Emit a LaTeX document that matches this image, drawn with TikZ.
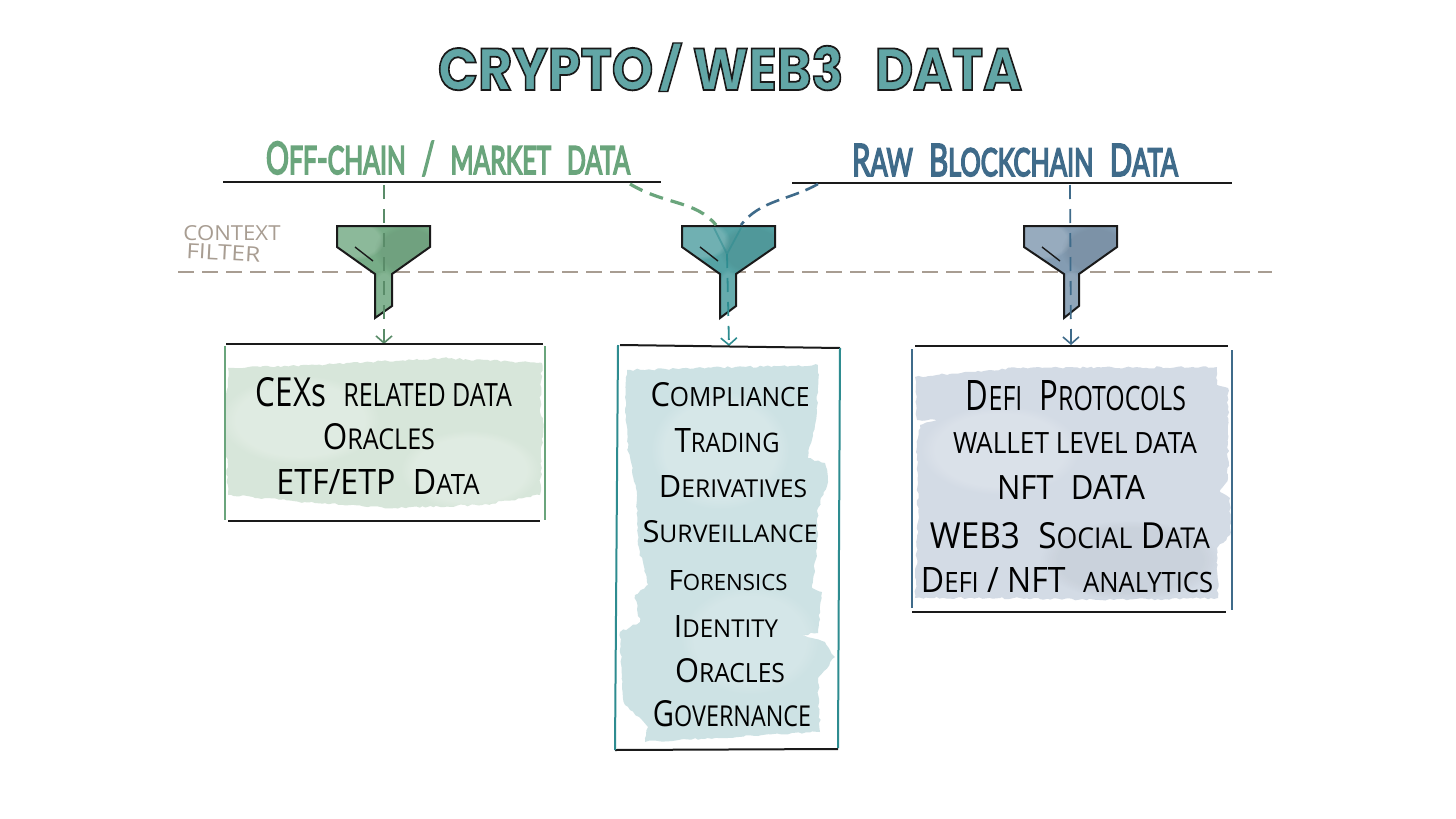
\documentclass[tikz,border=0pt]{standalone}
\usepackage{fontspec}
\usepackage{graphicx}
\usetikzlibrary{arrows.meta,decorations.pathmorphing,fadings}
\setmainfont{Lato}
\newfontfamily\handfont{Open Sans}
\newfontfamily\headfont{Lato}
\newfontfamily\titlefont{Poppins}
\definecolor{ink}{HTML}{1A1A1A}
\definecolor{titlefill}{HTML}{62A6A6}
\definecolor{offgreen}{HTML}{6AA57C}
\definecolor{midteal}{HTML}{2E8C90}
\definecolor{rawblue}{HTML}{3F6B8A}
\definecolor{taupe}{HTML}{A89D92}
\definecolor{washgreen}{HTML}{D7E6DA}
\definecolor{washteal}{HTML}{CDE2E4}
\definecolor{washblue}{HTML}{D3DBE5}
\definecolor{fungreen}{HTML}{72A983}
\definecolor{funteal}{HTML}{4F9FA1}
\definecolor{funblue}{HTML}{7F98AF}
\newcommand{\lbl}[3]{\resizebox{#1pt}{#2pt}{#3}}
\newcommand{\smc}[1]{{\fontsize{8}{8}\selectfont #1}}
\newcommand{\smh}[1]{{\fontsize{8.6}{8.6}\selectfont #1}}
\newcommand{\wgap}{\hspace{0.55em}}
\newcommand{\titlestroke}{\special{pdf:code 0.1 0.1 0.1 RG 2 Tr 0.3 w}}
\newcommand{\headstroke}{\special{pdf:code 2 Tr 0.42 w}}
\newcommand{\nostroke}{\special{pdf:code 0 Tr}}
\tikzset{
  linelabel/.style={anchor=base,inner sep=0pt,text=black,font=\handfont},
  headlabel/.style={anchor=base,inner sep=0pt,font=\headfont},
  rule/.style={line width=2pt,draw=ink},
  siderule/.style={line width=2pt},
  washshape/.style={decorate,decoration={random steps,segment length=3.5pt,amplitude=1.1pt}},
  blot/.style={path fading=circle with fuzzy edge 20 percent},
  flow/.style={line width=1.8pt,dash pattern=on 14pt off 10pt},
  curveflow/.style={line width=3.2pt,dash pattern=on 14pt off 8pt},
  tip/.style={-{Straight Barb[length=7pt,width=16pt,line width=1.6pt]}},
  funnelshape/.style={draw=ink,line width=2pt,line join=miter},
}
\begin{document}
\begin{tikzpicture}[x=1pt,y=-1pt]
\useasboundingbox (0,0) rectangle (1456,819);
\fill[white] (0,0) rectangle (1456,819);
\pgfmathsetseed{11}

% watercolour washes
\def\polyA{(228,368) -- (315,365) -- (442,358) -- (542,363) -- (540,412) -- (543,422) -- (540,495) -- (482,505) -- (395,508) -- (315,503) -- (228,495) -- (225,418) -- cycle}
\def\polyB{(627,370) -- (818,365) -- (817,412) -- (808,458) -- (825,463) -- (828,482) -- (818,508) -- (817,548) -- (812,588) -- (822,592) -- (818,633) -- (802,635) -- (825,642) -- (835,657) -- (818,678) -- (820,732) -- (645,742) -- (648,727) -- (625,705) -- (622,685) -- (620,632) -- (640,622) -- (635,595) -- (648,585) -- (638,545) -- (637,495) -- (628,448) -- (625,412) -- cycle}
\def\polyC{(915,377) -- (1017,368) -- (1217,367) -- (1217,385) -- (1228,388) -- (1228,478) -- (1220,492) -- (1230,498) -- (1230,535) -- (1217,548) -- (1218,598) -- (1100,600) -- (1000,598) -- (915,598) -- (918,522) -- (917,445) -- (920,425) -- (937,420) -- (917,420) -- cycle}
\fill[washgreen,washshape] \polyA;
\fill[washteal,washshape] \polyB;
\fill[washblue,washshape] \polyC;
\begin{scope}
\clip \polyA;
\fill[white,opacity=.22,blot] (300,420) ellipse (80 and 45);
\fill[white,opacity=.22,blot] (470,470) ellipse (70 and 40);
\end{scope}
\begin{scope}
\clip \polyB;
\fill[white,opacity=.18,blot] (720,450) ellipse (70 and 60);
\fill[white,opacity=.15,blot] (750,640) ellipse (70 and 55);
\end{scope}
\begin{scope}
\clip \polyC;
\fill[white,opacity=.18,blot] (1000,450) ellipse (80 and 45);
\fill[black,opacity=.04,blot] (1130,560) ellipse (90 and 40);
\end{scope}

% context filter line
\coordinate (filterL) at (178,272);
\coordinate (filterR) at (1272,272);
\draw[taupe,line width=2pt,dash pattern=on 16pt off 8pt] (filterL) -- (filterR);

% funnels
\newcommand{\funnel}[5]{%
  \begin{scope}
    \clip (#1,226) -- (#2,226) -- (#2,247) -- (#4,274) -- (#4,306) -- (#3,318) -- (#3,274) -- (#1,247) -- cycle;
    \fill[#5,opacity=.96] (#1-2,224) rectangle (#2+2,320);
    \fill[white,opacity=.16,blot] (#1+18,240) ellipse (30 and 20);
    \fill[black,opacity=.06,blot] (#2-22,250) ellipse (34 and 26);
    \fill[white,opacity=.1,blot] (#4-8,295) ellipse (12 and 26);
  \end{scope}
  \draw[funnelshape] (#1,226) -- (#2,226) -- (#2,247) -- (#4,274) -- (#4,306) -- (#3,318) -- (#3,274) -- (#1,247) -- cycle;
  \draw[ink,line width=1.4pt] (#1+18,247) -- (#1+36,261);
}
\funnel{337}{430}{375}{392}{fungreen}
\funnel{682}{775}{720}{736}{funteal}
\funnel{1024}{1117}{1064}{1079}{funblue}

% heading rules
\coordinate (offL) at (223,182); \coordinate (offR) at (661,182);
\coordinate (rawL) at (792,183); \coordinate (rawR) at (1232,183);
\draw[rule] (offL) -- (offR);
\draw[rule] (rawL) -- (rawR);

% connectors
\coordinate (offA) at (384,185); \coordinate (offB) at (384,344);
\coordinate (rawA) at (1070,185); \coordinate (rawB) at (1071,345);
\coordinate (offC) at (630,184); \coordinate (midG) at (716,225);
\coordinate (rawC) at (818,184); \coordinate (midB) at (741,225);
\coordinate (midY) at (727,254); \coordinate (midE) at (729,346);
\coordinate (yL) at (714,228); \coordinate (yR) at (741,228);
\draw[offgreen!85!black,flow,tip] (offA) -- (offB);
\draw[rawblue,flow,tip] (rawA) -- (rawB);
\draw[midteal,flow,tip] (midY) -- (midE);
\draw[midteal,line width=1.8pt,opacity=.55] (yL) -- (midY) -- (yR);
\draw[offgreen,curveflow] (offC) .. controls (665,205) and (695,200) .. (midG);
\draw[rawblue,line width=2.6pt,dash pattern=on 14pt off 7pt] (rawC) .. controls (790,200) and (760,200) .. (midB);

% frames
\coordinate (a1) at (226,344); \coordinate (a2) at (543,344); \coordinate (a3) at (228,521); \coordinate (a4) at (540,521);
\coordinate (a5) at (225,346); \coordinate (a6) at (225,520); \coordinate (a7) at (545,346); \coordinate (a8) at (545,520);
\draw[rule] (a1) -- (a2); \draw[rule] (a3) -- (a4);
\draw[siderule,offgreen] (a5) -- (a6); \draw[siderule,offgreen] (a7) -- (a8);
\coordinate (b1) at (620,345); \coordinate (b2) at (840,348); \coordinate (b3) at (615,750); \coordinate (b4) at (838,749);
\coordinate (b5) at (618,345); \coordinate (b6) at (615,750); \coordinate (b7) at (840,348); \coordinate (b8) at (838,748);
\draw[rule] (b1) -- (b2); \draw[rule] (b3) -- (b4);
\draw[siderule,midteal] (b5) -- (b6); \draw[siderule,midteal] (b7) -- (b8);
\coordinate (c1) at (915,346); \coordinate (c2) at (1228,346); \coordinate (c3) at (912,612); \coordinate (c4) at (1226,612);
\coordinate (c5) at (912,349); \coordinate (c6) at (912,608); \coordinate (c7) at (1232,350); \coordinate (c8) at (1232,610);
\draw[rule] (c1) -- (c2); \draw[rule] (c3) -- (c4);
\draw[siderule,rawblue] (c5) -- (c6); \draw[siderule,rawblue] (c7) -- (c8);

% title
\node[anchor=base,inner sep=0pt,text=titlefill] (title) at (730,90)
  {\resizebox{584pt}{47pt}{\color{titlefill}\titlefont\bfseries\titlestroke CRYPTO\hspace{0.1em}\raisebox{0.11em}{\scalebox{1}[0.72]{\titlestroke/}}\titlestroke\hspace{0.2em}WEB3\hspace{0.6em}DATA\nostroke}};

% headings
\node[headlabel,text=offgreen] (offhead) at (448,174) {\lbl{364}{33}{{\color{offgreen}\headstroke O\smh{FF}-\smh{CHAIN}\wgap/\wgap \smh{MARKET}\wgap\smh{DATA}\nostroke}}};
\node[headlabel,text=rawblue] (rawhead) at (1015,176) {\lbl{326}{32}{{\color{rawblue}\headstroke R\smh{AW}\wgap B\smh{LOCKCHAIN}\wgap D\smh{ATA}\nostroke}}};
\node[anchor=base,inner sep=0pt,font=\handfont,text=taupe] (ctx) at (232,240) {\lbl{97}{15}{{\color{taupe}CONTEXT}}};
\node[anchor=base,inner sep=0pt,font=\handfont,text=taupe,rotate=-3] (flt) at (223,260) {\lbl{74}{15}{{\color{taupe}FILTER}}};

% box 1
\node[linelabel] (a-1) at (384,406) {\lbl{256}{29}{CEXs\wgap\smc{RELATED DATA}}};
\node[linelabel] (a-2) at (379,449) {\lbl{112}{26}{O\smc{RACLES}}};
\node[linelabel] (a-3) at (378,494) {\lbl{203}{25}{ETF/ETP\wgap D\smc{ATA}}};
% box 2
\node[linelabel] (b-1) at (730,406) {\lbl{159}{24}{C\smc{OMPLIANCE}}};
\node[linelabel] (b-2) at (727,452) {\lbl{105}{24}{T\smc{RADING}}};
\node[linelabel] (b-3) at (733,497) {\lbl{148}{22}{D\smc{ERIVATIVES}}};
\node[linelabel] (b-4) at (730,542) {\lbl{175}{22}{S\smc{URVEILLANCE}}};
\node[linelabel] (b-5) at (728,590) {\lbl{119}{20}{F\smc{ORENSICS}}};
\node[linelabel] (b-6) at (726,637) {\lbl{104}{22}{I\smc{DENTITY}}};
\node[linelabel] (b-7) at (730,682) {\lbl{110}{24}{O\smc{RACLES}}};
\node[linelabel] (b-8) at (732,726) {\lbl{158}{26}{G\smc{OVERNANCE}}};
% box 3
\node[linelabel] (c-1) at (1076,410) {\lbl{220}{30}{D\smc{EFI}\wgap P\smc{ROTOCOLS}}};
\node[linelabel] (c-2) at (1075,453) {\lbl{244}{21}{WALLET LEVEL DATA}};
\node[linelabel] (c-3) at (1071,499) {\lbl{148}{24}{NFT\wgap DATA}};
\node[linelabel] (c-4) at (1070,548) {\lbl{280}{26}{WEB3\wgap S\smc{OCIAL} D\smc{ATA}}};
\node[linelabel] (c-5) at (1067,592) {\lbl{292}{25}{D\smc{EFI} / NFT\wgap \smc{ANALYTICS}}};
\end{tikzpicture}
\end{document}
